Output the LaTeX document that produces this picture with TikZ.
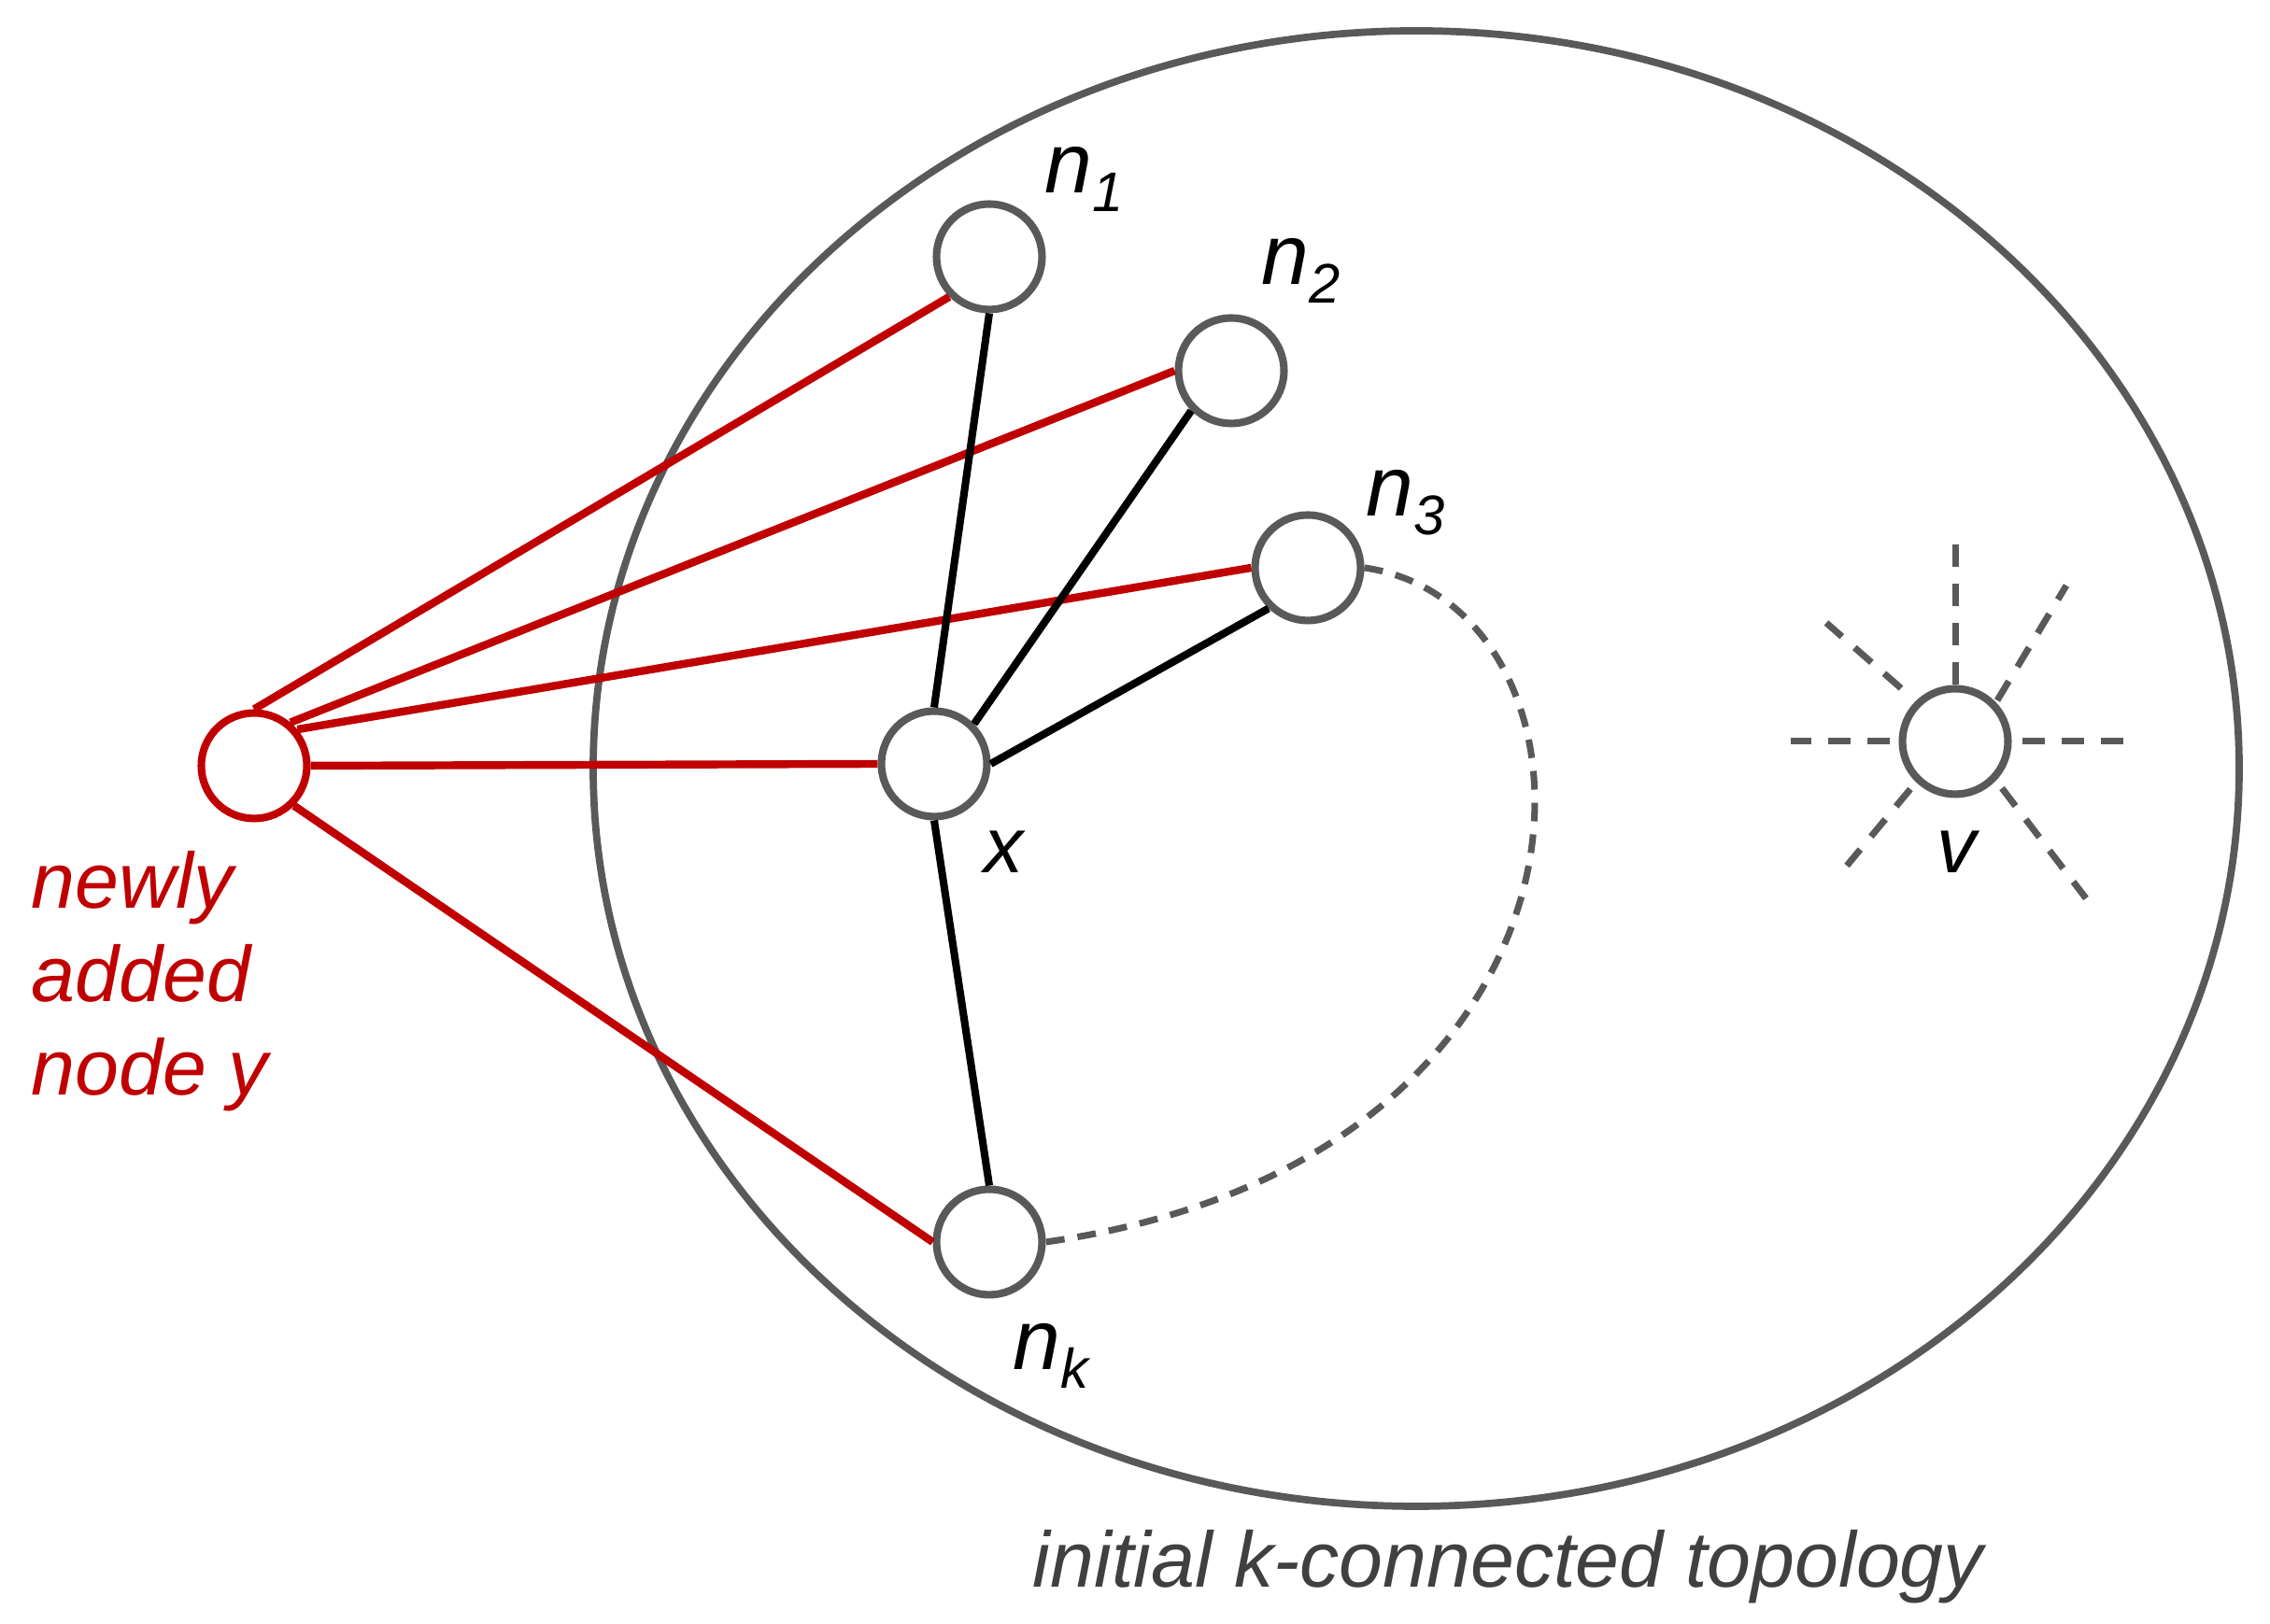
\documentclass[tikz,border=0pt]{standalone}
\usepackage{fontspec}
\setmainfont{Liberation Sans}
\usepackage{tikz}
\usetikzlibrary{calc}
\definecolor{nodegray}{RGB}{89,89,89}
\definecolor{newred}{RGB}{192,0,0}
\definecolor{captgray}{RGB}{64,64,64}
\tikzset{
  vertex/.style={circle, draw=nodegray, fill=white, minimum size=1.13cm,
    inner sep=0pt, line width=2.3pt},
  newvertex/.style={vertex, draw=newred},
  link/.style={line width=2.3pt, color=black},
  newlink/.style={line width=2.4pt, color=newred},
  region/.style={line width=2.2pt, color=nodegray},
  pathdash/.style={line width=2pt, color=nodegray, dash pattern=on 0.2cm off 0.14cm},
  spoke/.style={line width=2pt, color=nodegray, dash pattern=on 0.24cm off 0.18cm},
  lbl/.style={inner sep=0pt, anchor=base west, font=\fontsize{26}{26}\selectfont\itshape},
  captn/.style={inner sep=0pt, anchor=base west, font=\fontsize{24}{28.45}\selectfont\itshape}
}
\newcommand{\nsub}[1]{n\raisebox{-0.2cm}{\fontsize{17}{17}\selectfont #1}}

\begin{document}
\begin{tikzpicture}
  \useasboundingbox (0,0) rectangle (24.30,17.39);
  % Initial topology
  \coordinate (mid) at (15.16,9.16);
  \draw[region] (mid) ellipse [x radius=8.81cm, y radius=7.90cm];
  \node[captn, text=captgray] (topolbl) at (11.05,0.39) {initial k-connected topology};
  % Nodes
  \node[newvertex] (y) at (2.72,9.19) {};
  \node[vertex] (n1) at (10.59,14.64) {};
  \node[vertex] (n2) at (13.18,13.42) {};
  \node[vertex] (n3) at (14.00,11.31) {};
  \node[vertex] (x) at (10.00,9.21) {};
  \node[vertex] (nk) at (10.59,4.09) {};
  \node[vertex] (v) at (20.93,9.45) {};
  % Labels
  \node[lbl] (n1lbl) at ([shift={(0.59,0.68)}]n1.center) {\nsub{1}};
  \node[lbl] (n2lbl) at ([shift={(0.32,0.92)}]n2.center) {\nsub{2}};
  \node[lbl] (n3lbl) at ([shift={(0.62,0.55)}]n3.center) {\nsub{3}};
  \node[lbl] (nklbl) at ([shift={(0.25,-1.37)}]nk.center) {\nsub{k}};
  \node[captn] (xlbl) at ([shift={(0.53,-1.17)}]x.center) {x};
  \node[captn] (vlbl) at ([shift={(-0.20,-1.41)}]v.center) {v};
  \node[captn, text=newred, align=left] (ylbl) at (0.33,5.66) {newly\\added\\node y};
  % New links
  \draw[newlink] (y.90) -- (n1.225);
  \draw[newlink] (y.50) -- (n2.180);
  \draw[newlink] (y.40) -- (n3.180);
  \draw[newlink] (y.east) -- (x.west);
  \draw[newlink] (y.315) -- (nk.180);
  % Existing links
  \draw[link] (n1.270) -- (x.90);
  \draw[link] (n2.225) -- (x.45);
  \draw[link] (n3.226) -- (x.0);
  \draw[link] (x.270) -- (nk.90);
  \draw[pathdash] (n3.east) .. controls +(2.8,-0.4) and +(6.3,0.9) .. (nk.east);
  % Neighbours of v
  \draw[spoke] (v.north) -- ++(0,1.50);
  \draw[spoke] ($(v)+(-0.58,0.57)$) -- ($(v)+(-1.38,1.27)$);
  \draw[spoke] ($(v)+(0.45,0.44)$) -- ($(v)+(1.19,1.67)$);
  \draw[spoke] ($(v)+(-0.70,0)$) -- ($(v)+(-1.76,0)$);
  \draw[spoke] ($(v)+(0.72,0)$) -- ($(v)+(1.80,0)$);
  \draw[spoke] ($(v)+(-0.48,-0.51)$) -- ($(v)+(-1.16,-1.33)$);
  \draw[spoke] ($(v)+(0.50,-0.50)$) -- ($(v)+(1.40,-1.68)$);
\end{tikzpicture}
\end{document}
